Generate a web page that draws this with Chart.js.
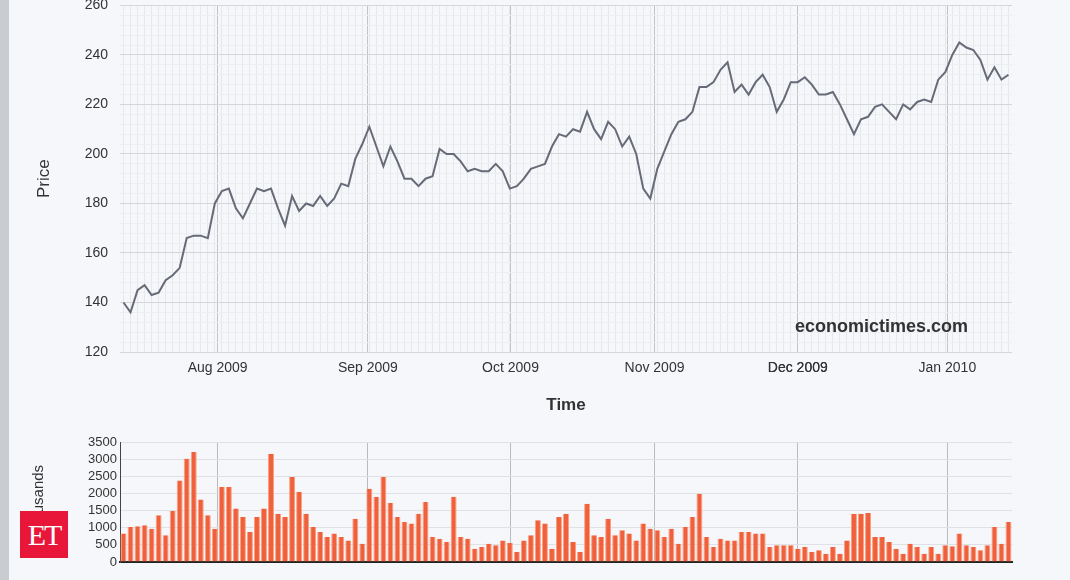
<!DOCTYPE html>
<html lang="en">
<head>
<meta charset="UTF-8">
<title>Price and volume</title>
<script src="https://cdn.jsdelivr.net/npm/chart.js"></script>
<style>
  body { margin:0; width:1070px; height:580px; background:#f5f7fa; position:relative; overflow:hidden; font-family:"Liberation Sans", Arial, sans-serif; }
  #edge { position:absolute; left:0; top:0; width:9px; height:580px; background:#c9ccd1; }
  #top { position:absolute; left:0; top:-15px; width:1070px; height:435px; }
  #bot { position:absolute; left:0; top:425px; width:1070px; height:155px; }
  #wm { position:absolute; left:795px; top:316px; font-size:18px; font-weight:bold; color:#333; }
  #et { position:absolute; left:20px; top:511px; width:48px; height:47px; background:#e8173a; color:#fff; font-family:"Liberation Serif", serif; font-size:30px; line-height:47px; text-align:center; letter-spacing:-2px; }
</style>
</head>
<body>
<div id="edge"></div>
<div id="top"><canvas id="priceChart"></canvas></div>
<div id="bot"><canvas id="volChart"></canvas></div>
<div id="wm">economictimes.com</div>
<div id="et">ET</div>
<script>
// roughly one value per trading day, Jul 2009 - Jan 2010
const prices = [140,136,145,147,143,144,149,151,154,166,167,167,166,180,185,186,178,174,180,186,185,186,178,171,183,177,180,179,183,179,182,188,187,198,204,211,203,195,203,197,190,190,187,190,191,202,200,200,197,193,194,193,193,196,193,186,187,190,194,195,196,203,208,207,210,209,217,210,206,213,210,203,207,200,186,182,194,201,208,213,214,217,227,227,229,234,237,225,228,224,229,232,227,217,222,229,229,231,228,224,224,225,220,214,208,214,215,219,220,217,214,220,218,221,222,221,230,233,240,245,243,242,238,230,235,230,232];
const volumes = [830,1020,1040,1070,970,1360,780,1490,2380,3010,3210,1820,1360,970,2190,2190,1560,1310,875,1310,1560,3160,1410,1310,2480,2040,1410,1020,875,730,830,730,630,1260,535,2140,1900,2480,1720,1310,1170,1120,1410,1750,730,680,580,1900,730,680,390,440,535,490,630,555,290,630,780,1220,1120,390,1310,1410,580,290,1700,780,730,1260,780,925,830,630,1120,970,925,730,970,535,1020,1310,1990,730,440,680,630,630,875,875,830,830,440,490,490,490,390,440,290,340,240,440,240,630,1410,1410,1430,730,730,580,390,240,535,440,240,440,240,490,460,830,490,440,340,490,1020,535,1170];
const monthLabels = ['Aug 2009','Sep 2009','Oct 2009','Nov 2009','Dec 2009','Jan 2010'];
const monthPos = [13.4,34.8,55.1,75.6,96,117.3];

const n = Math.max(prices.length, volumes.length);
const xMin = -0.5, xMax = n - 0.5;
const tickFont = { family:'"Liberation Sans", Arial', size:14 };

function monthTicks(withMinor) {
  return function (scale) {
    const t = [];
    if (withMinor) for (let i = 0; i < n; i++) t.push({ value:i });
    monthPos.forEach(p => t.push({ value:p }));
    scale.ticks = t;
  };
}
function monthLabel(v) {
  const k = monthPos.indexOf(v);
  return k >= 0 ? monthLabels[k] : '';
}

new Chart(document.getElementById('priceChart'), {
  type:'line',
  data:{ datasets:[{ data:prices.map((p,i)=>({x:i,y:p})), borderColor:'#676a77', borderWidth:2, pointRadius:0, tension:0 }] },
  options:{
    responsive:true, maintainAspectRatio:false, animation:false,
    layout:{ padding:{ left:30, right:58, top:0, bottom:0 } },
    plugins:{ legend:{display:false}, tooltip:{enabled:false} },
    scales:{
      x:{ type:'linear', min:xMin, max:xMax,
          afterBuildTicks:monthTicks(true),
          afterFit:s=>{ s.height = 68; },
          grid:{ color:c=>monthPos.includes(c.tick.value)?'#c2c4c8':'#e6e8ec', drawTicks:false },
          border:{display:false},
          ticks:{ autoSkip:false, maxRotation:0, color:'#333', font:tickFont, padding:8, callback:monthLabel },
          title:{ display:true, text:'Time', color:'#333', font:{ family:'"Liberation Sans", Arial', size:17, weight:'bold' }, padding:{top:12} } },
      y:{ min:120, max:260,
          afterBuildTicks:s=>{ const t=[]; for(let v=120; v<=260; v+=4) t.push({value:v}); s.ticks=t; },
          afterFit:s=>{ s.width = 90; },
          grid:{ color:c=>c.tick.value%20===0?'#d4d6da':'#eceef1', drawTicks:false },
          border:{display:false},
          ticks:{ autoSkip:false, color:'#333', font:tickFont, padding:12, callback:v=>v%20===0?v:'' },
          title:{ display:true, text:'Price', color:'#333', font:{ family:'"Liberation Sans", Arial', size:17 } } }
    }
  }
});

new Chart(document.getElementById('volChart'), {
  type:'bar',
  data:{ datasets:[{ data:volumes.map((v,i)=>({x:i,y:v})), backgroundColor:'#f0603c', borderColor:'#f9a07f', borderWidth:{left:1,right:1,top:0,bottom:0}, barPercentage:0.85, categoryPercentage:1 }] },
  options:{
    responsive:true, maintainAspectRatio:false, animation:false,
    layout:{ padding:{ left:30, right:58, top:17, bottom:0 } },
    plugins:{ legend:{display:false}, tooltip:{enabled:false} },
    scales:{
      x:{ type:'linear', min:xMin, max:xMax, offset:false,
          afterBuildTicks:monthTicks(false),
          afterFit:s=>{ s.height = 18; },
          grid:{ color:'#b8bbc0', drawTicks:false, offset:false },
          border:{ display:true, color:'#222', width:2 },
          ticks:{ display:false } },
      y:{ min:0, max:3500,
          afterFit:s=>{ s.width = 90; },
          grid:{ color:'#dfe1e5', drawTicks:false },
          border:{ display:true, color:'#444' },
          ticks:{ stepSize:500, autoSkip:false, color:'#333', font:{ family:'"Liberation Sans", Arial', size:13 }, padding:3, callback:v=>String(v) },
          title:{ display:true, text:'Thousands', color:'#333', font:{ family:'"Liberation Sans", Arial', size:15 }, padding:0 } }
    }
  }
});
</script>
</body>
</html>
